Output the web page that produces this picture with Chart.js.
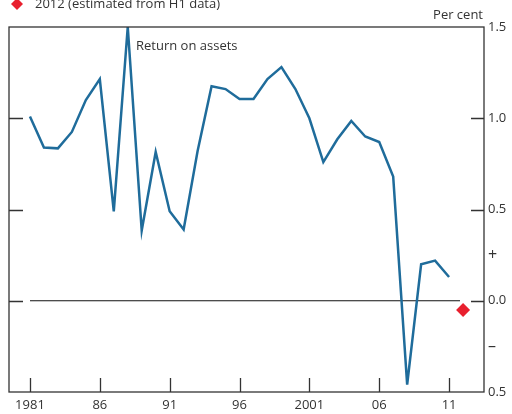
<!DOCTYPE html>
<html>
<head>
<meta charset="utf-8">
<script src="https://cdn.jsdelivr.net/npm/chart.js@4/dist/chart.umd.min.js"></script>
<style>
    html, body { margin: 0; padding: 0; background: #fff; }
    #grafico { display: block; }
</style>
</head>
<body>
<canvas id="grafico" width="512" height="414"></canvas>
<script>
// Datos
const anios = [1981, 1982, 1983, 1984, 1985, 1986, 1987, 1988, 1989, 1990,
               1991, 1992, 1993, 1994, 1995, 1996, 1997, 1998, 1999, 2000,
               2001, 2002, 2003, 2004, 2005, 2006, 2007, 2008, 2009, 2010, 2011];
const rentabilidad = [1.01, 0.84, 0.835, 0.925, 1.10, 1.215, 0.49, 1.50, 0.385, 0.815,
                      0.49, 0.39, 0.82, 1.175, 1.16, 1.105, 1.105, 1.215, 1.28, 1.16,
                      1.00, 0.76, 0.885, 0.985, 0.90, 0.87, 0.68, -0.46, 0.20, 0.22, 0.13];
const anioEstimado = [2012];
const valorEstimado = [-0.05];

const ticksX = [1981, 1986, 1991, 1996, 2001, 2006, 2011];
const etiquetasX = ['1981', '86', '91', '96', '2001', '06', '11'];
const ticksY = [-0.5, -0.25, 0, 0.25, 0.5, 1, 1.5];
const etiquetasY = ['0.5', '–', '0.0', '+', '0.5', '1.0', '1.5'];
const marcasY = [0, 0.5, 1];

const FUENTE = '"Open Sans", "Noto Sans", sans-serif';
const AZUL = '#1f6c9b';
const ROJO = '#e8202e';
const GRIS = '#333333';

const decoracion = {
    id: 'decoracion',
    beforeDatasetsDraw(chart) {
        const { ctx, chartArea: a, scales: { y } } = chart;
        const y0 = y.getPixelForValue(0);
        ctx.save();
        ctx.strokeStyle = '#111';
        ctx.lineWidth = 1;
        ctx.beginPath();
        ctx.moveTo(a.left + 21, y0);
        ctx.lineTo(a.right - 24, y0);
        ctx.stroke();
        ctx.restore();
    },
    afterDraw(chart) {
        const { ctx, chartArea: a, scales: { x, y } } = chart;
        ctx.save();
        ctx.strokeStyle = GRIS;
        ctx.lineWidth = 1.3;
        ctx.strokeRect(a.left, a.top, a.right - a.left, a.bottom - a.top);

        ctx.beginPath();
        marcasY.forEach(v => {
            const py = Math.round(y.getPixelForValue(v)) + 0.5;
            ctx.moveTo(a.left, py);
            ctx.lineTo(a.left + 14, py);
            ctx.moveTo(a.right - 13, py);
            ctx.lineTo(a.right, py);
        });
        ticksX.forEach(v => {
            const px = Math.round(x.getPixelForValue(v)) + 0.5;
            ctx.moveTo(px, a.bottom);
            ctx.lineTo(px, a.bottom - 14);
        });
        ctx.stroke();

        ctx.fillStyle = GRIS;
        ctx.font = `13px ${FUENTE}`;
        ctx.textBaseline = 'alphabetic';
        ctx.textAlign = 'left';
        ctx.fillText('2012 (estimated from H1 data)', 35, 8);
        ctx.fillText('Return on assets', 136, 50);
        ctx.textAlign = 'right';
        ctx.fillText('Per cent', 483, 19);

        // Rombo de la leyenda
        ctx.fillStyle = ROJO;
        ctx.beginPath();
        ctx.moveTo(17, -2);
        ctx.lineTo(23, 4);
        ctx.lineTo(17, 10);
        ctx.lineTo(11, 4);
        ctx.closePath();
        ctx.fill();
        ctx.restore();
    }
};

new Chart(document.getElementById('grafico'), {
    type: 'line',
    data: {
        datasets: [
            {
                data: anios.map((anio, i) => ({ x: anio, y: rentabilidad[i] })),
                borderColor: AZUL,
                borderWidth: 2.5,
                pointRadius: 0,
                tension: 0,
                order: 2
            },
            {
                type: 'scatter',
                data: anioEstimado.map((anio, i) => ({ x: anio, y: valorEstimado[i] })),
                pointStyle: 'rectRot',
                pointRadius: 7,
                backgroundColor: ROJO,
                borderColor: ROJO,
                borderWidth: 0,
                order: 1
            }
        ]
    },
    options: {
        responsive: false,
        devicePixelRatio: 1,
        animation: false,
        layout: { padding: { top: 27, left: 9, right: 0, bottom: 0 } },
        plugins: { legend: { display: false }, tooltip: { enabled: false } },
        scales: {
            x: {
                type: 'linear',
                min: 1979.5,
                max: 2013.5,
                grid: { display: false, drawTicks: false },
                border: { display: false },
                afterBuildTicks: scale => { scale.ticks = ticksX.map(v => ({ value: v })); },
                afterFit: scale => { scale.height = 22; },
                ticks: {
                    autoSkip: false,
                    maxRotation: 0,
                    padding: 5,
                    color: GRIS,
                    font: { family: FUENTE, size: 13 },
                    callback: value => etiquetasX[ticksX.indexOf(value)]
                }
            },
            y: {
                position: 'right',
                min: -0.5,
                max: 1.5,
                grid: { display: false, drawTicks: false },
                border: { display: false },
                afterBuildTicks: scale => { scale.ticks = ticksY.map(v => ({ value: v })); },
                afterFit: scale => { scale.width = 28; },
                ticks: {
                    autoSkip: false,
                    padding: 4,
                    color: GRIS,
                    font: ctx => ({
                        family: FUENTE,
                        size: Math.abs(ctx.tick?.value) === 0.25 ? 16 : 13
                    }),
                    callback: value => etiquetasY[ticksY.indexOf(value)]
                }
            }
        }
    },
    plugins: [decoracion]
});
</script>
</body>
</html>
